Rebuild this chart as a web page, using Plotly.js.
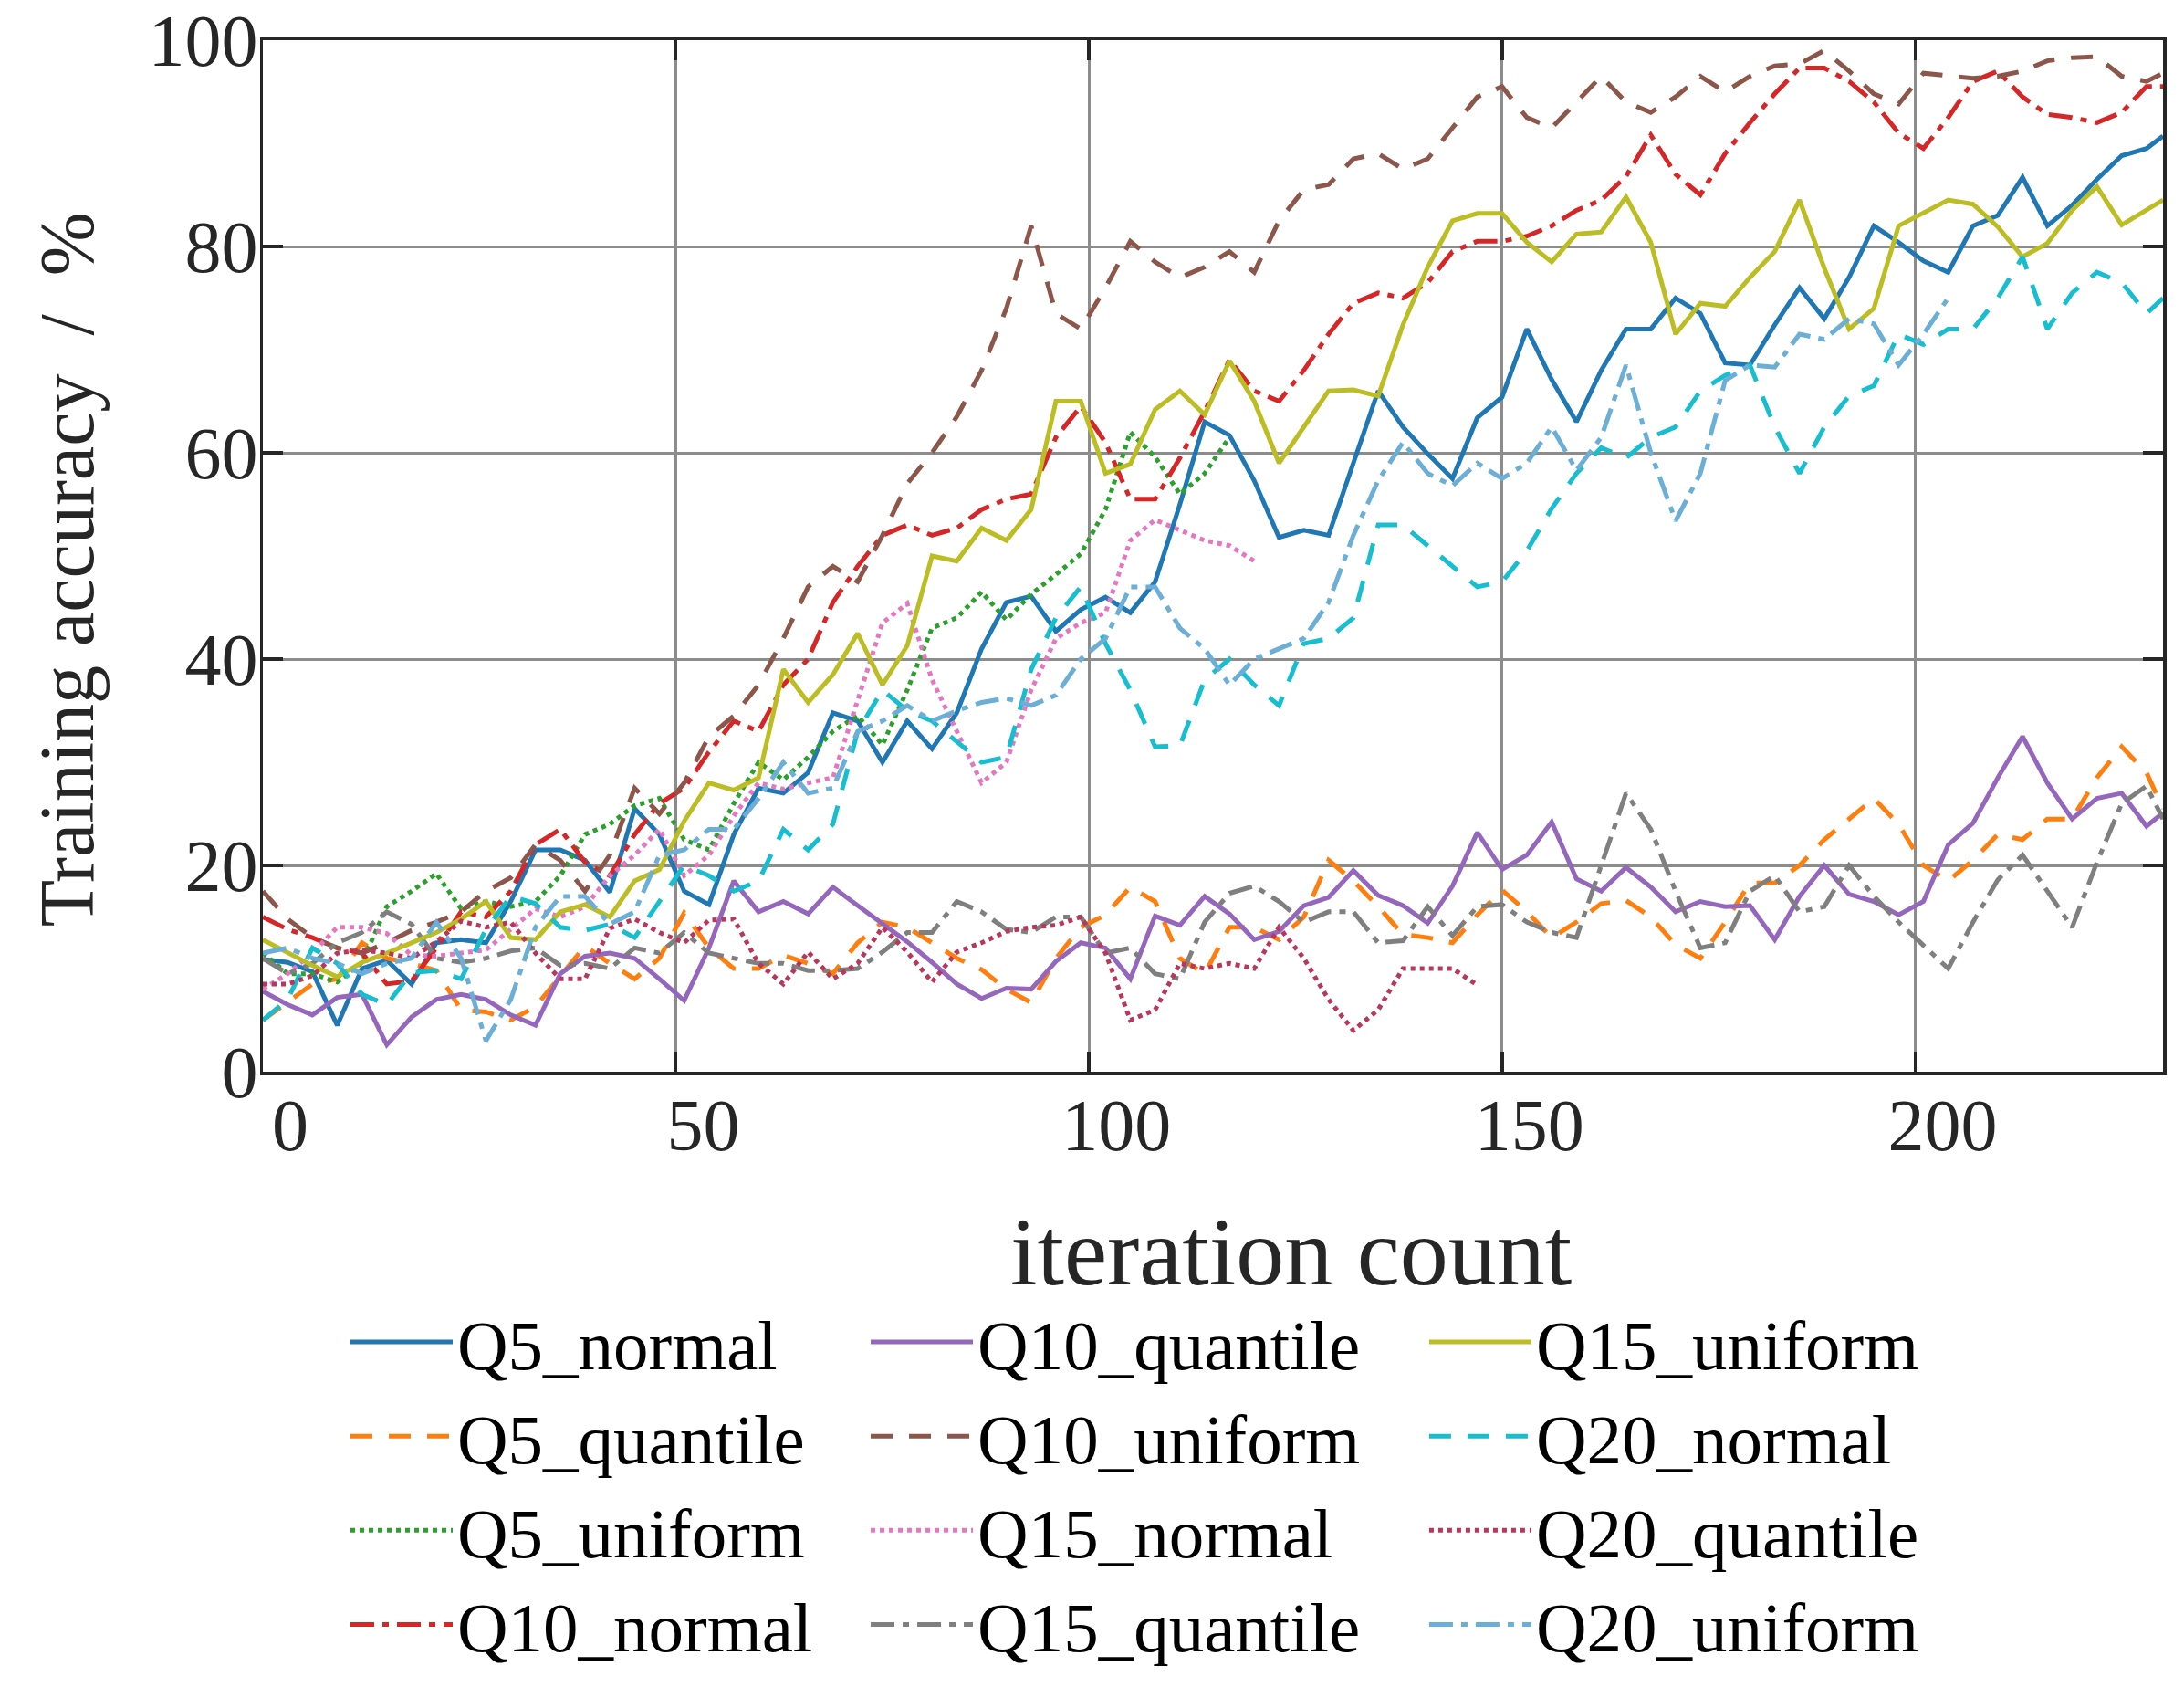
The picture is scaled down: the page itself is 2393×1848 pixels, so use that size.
<!DOCTYPE html>
<html>
<head>
<meta charset="utf-8">
<title>Training accuracy vs iteration count</title>
<script src="https://cdn.plot.ly/plotly-3.0.1.min.js"></script>
<style>
  html, body { margin: 0; padding: 0; background: #fff; }
  #chart { width: 2393px; height: 1848px; }
</style>
</head>
<body>
<div id="chart"></div>
<script>
// Training accuracy (%) per iteration, sampled every 3 iterations (last point = 230).
const ITER = [];
for (let k = 0; k <= 76; k++) ITER.push(k * 3);
ITER.push(230);

const X_TICKS = [0, 50, 100, 150, 200];
const Y_TICKS = [0, 20, 40, 60, 80, 100];

const Q5_normal = [10.9,10.6,9.7,4.5,10.0,10.8,8.5,12.5,12.8,12.5,
  16.5,21.5,21.5,20.5,17.4,25.5,23.0,17.5,16.2,23.0,
  27.5,27.0,29.0,34.8,34.0,30.0,34.0,31.3,34.8,41.0,
  45.5,46.1,42.7,44.8,46.0,44.5,47.5,55.0,63.0,61.7,
  57.3,51.8,52.5,52.0,59.0,66.0,62.5,59.9,57.5,63.4,
  65.4,72.0,67.1,63.0,68.0,72.0,72.0,75.0,73.5,68.7,
  68.5,72.4,76.0,73.0,77.0,82.0,80.4,78.6,77.5,82.0,
  83.0,86.7,82.0,84.0,86.5,88.8,89.5,90.7];

const Q5_quantile = [5.0,6.8,8.5,9.0,12.5,11.0,10.5,9.8,6.0,5.8,
  5.0,6.3,9.3,12.2,10.5,9.0,11.0,15.4,12.0,10.0,
  10.0,11.3,10.5,9.5,12.5,14.5,14.0,12.5,11.0,9.9,
  8.0,6.7,11.0,14.0,15.2,17.9,16.5,11.0,9.5,14.0,
  14.0,12.8,15.0,20.5,18.5,16.0,13.3,13.0,12.5,15.2,
  17.6,15.5,13.0,14.5,16.3,16.6,15.0,12.3,11.0,14.5,
  18.3,18.3,20.0,22.5,24.5,26.5,24.0,20.0,18.5,20.5,
  23.0,22.5,24.5,24.5,28.5,31.5,29.0,25.5];

const Q5_uniform = [11.5,9.5,9.5,8.7,10.6,16.0,17.5,19.2,15.8,16.5,
  16.0,16.5,19.0,23.0,24.0,25.8,26.5,22.5,21.5,26.0,
  30.0,28.3,30.5,33.0,34.5,31.7,37.0,43.0,44.0,46.5,
  43.8,46.3,48.2,50.2,54.5,62.0,59.6,56.0,58.0,61.5];

const Q10_normal = [15.0,13.8,13.0,12.0,11.5,8.5,8.8,12.0,15.5,15.0,
  17.5,22.0,23.5,20.3,19.0,23.0,26.0,27.5,31.0,34.0,
  33.0,37.5,40.0,45.5,49.0,52.0,53.0,52.0,52.7,54.5,
  55.5,56.0,61.5,64.5,61.0,55.5,55.5,59.5,64.0,69.0,
  66.0,65.0,68.0,71.5,74.5,75.5,75.0,76.5,79.5,80.5,
  80.5,81.0,82.0,83.5,84.5,86.8,90.8,87.0,85.0,89.0,
  92.0,94.8,97.3,97.3,96.0,94.0,91.0,89.5,92.5,96.0,
  97.0,94.5,92.8,92.5,92.0,93.0,95.5,95.5];

const Q10_quantile = [7.8,6.5,5.5,7.2,7.5,2.6,5.3,7.0,7.5,7.0,
  5.5,4.5,9.5,11.2,11.5,11.0,9.0,6.9,12.0,18.5,
  15.5,16.5,15.3,17.9,16.1,14.4,12.6,10.6,8.5,7.1,
  8.1,8.0,10.7,12.5,12.0,9.0,15.1,14.2,17.0,15.3,
  12.8,13.6,16.1,16.9,19.5,17.1,16.1,14.4,18.0,23.2,
  19.6,21.0,24.2,18.7,17.5,19.8,17.9,15.5,16.5,16.0,
  16.1,12.8,17.0,20.0,17.2,16.5,15.2,16.5,22.0,24.1,
  28.5,32.5,28.0,24.5,26.5,27.0,23.8,25.1];

const Q10_uniform = [17.5,14.8,13.0,12.0,11.5,12.5,13.7,14.5,15.5,17.5,
  18.8,22.0,20.5,17.5,21.0,27.5,25.0,28.0,32.5,34.5,
  37.5,42.0,47.0,49.0,47.5,52.0,57.0,60.0,63.5,68.0,
  74.0,82.0,73.5,72.0,76.0,80.5,78.5,77.0,78.0,79.5,
  77.5,82.5,85.5,86.0,88.5,89.0,87.5,88.5,91.5,94.5,
  95.5,92.5,91.5,94.0,96.5,94.0,93.0,94.5,96.5,95.0,
  96.5,97.5,97.7,99.0,97.0,94.8,93.8,96.8,96.5,96.3,
  96.5,97.0,98.0,98.3,98.4,96.5,96.0,96.8];

const Q15_normal = [8.0,9.5,11.5,14.0,14.0,13.4,11.3,11.2,11.5,11.8,
  13.8,15.8,15.0,16.0,19.0,21.0,23.5,19.0,21.0,24.8,
  28.0,27.4,28.0,28.5,36.0,43.5,45.4,38.0,33.0,28.0,
  30.0,37.0,42.0,43.5,44.5,51.5,53.5,52.5,51.5,51.0,
  49.5];

const Q15_quantile = [11.0,9.5,10.5,12.5,13.5,15.5,14.3,11.0,10.6,11.0,
  11.7,12.0,10.3,10.5,10.0,12.0,11.5,13.5,11.5,11.0,
  10.5,10.5,9.8,9.8,10.0,11.6,13.5,13.5,16.5,15.5,
  13.8,13.5,15.0,15.0,11.5,12.0,9.5,9.0,14.5,17.3,
  18.0,16.5,14.5,15.5,15.5,12.5,12.7,16.0,13.2,16.0,
  16.2,14.5,13.5,13.0,20.0,27.0,23.5,17.5,12.0,12.5,
  17.5,19.0,15.5,16.0,20.0,17.0,14.5,12.2,10.0,14.5,
  18.6,21.0,17.5,14.0,20.3,26.0,27.7,24.5];

const Q15_uniform = [12.8,11.5,10.3,9.2,10.6,11.5,12.5,13.5,14.8,16.5,
  13.0,12.8,15.5,16.2,15.0,18.5,19.6,24.3,28.0,27.3,
  28.5,39.0,35.8,38.5,42.5,37.5,41.3,50.0,49.5,52.7,
  51.5,54.5,65.0,65.0,58.0,58.9,64.2,66.0,63.7,68.9,
  65.0,59.0,62.5,66.0,66.1,65.5,72.4,78.0,82.5,83.2,
  83.2,80.4,78.5,81.2,81.4,84.8,80.4,71.5,74.5,74.2,
  77.0,79.5,84.5,77.9,72.0,74.0,82.0,83.2,84.5,84.1,
  81.9,79.0,80.3,83.5,85.8,82.1,83.6,84.5];

const Q20_normal = [5.0,7.0,12.0,10.5,7.5,6.5,9.6,9.8,9.0,13.8,
  17.0,16.3,14.0,13.7,14.3,13.0,16.5,20.0,19.0,17.5,
  18.5,23.5,21.5,24.0,33.0,37.0,35.0,34.0,32.0,30.0,
  30.5,39.0,44.0,47.0,41.5,37.0,31.5,31.6,38.0,40.0,
  37.5,35.5,41.5,42.0,44.0,53.0,53.0,51.0,49.0,47.0,
  47.5,50.5,54.6,58.0,60.5,59.5,61.5,62.5,66.0,67.5,
  68.5,62.5,58.0,62.5,65.5,66.5,71.5,70.5,72.0,72.0,
  75.0,79.0,72.0,75.5,77.5,76.5,73.5,75.0];

const Q20_quantile = [8.5,8.5,9.3,11.5,11.8,11.5,11.0,12.6,14.6,14.0,
  14.5,11.5,9.0,9.0,13.9,14.8,13.5,12.5,14.7,14.8,
  10.5,8.5,11.6,9.0,10.5,14.0,11.6,8.7,11.6,12.5,
  13.6,14.0,14.2,15.0,11.5,5.0,6.0,10.5,10.0,10.5,
  10.0,14.0,11.0,7.0,4.0,6.0,10.0,10.0,10.0,8.4];

const Q20_uniform = [11.5,12.0,11.0,10.5,9.5,10.5,11.0,14.5,11.0,3.0,
  7.0,14.0,17.0,17.0,14.3,15.5,21.0,21.5,23.5,23.5,
  26.5,30.0,27.0,27.5,33.0,34.0,35.5,34.0,35.0,35.8,
  36.2,35.5,36.5,40.0,42.0,47.0,47.0,43.0,41.0,37.5,
  40.0,41.0,42.0,45.5,52.0,57.3,61.0,58.0,56.8,59.0,
  57.5,59.0,62.5,58.3,61.5,68.5,60.0,53.4,58.0,67.0,
  68.5,68.3,71.5,71.0,73.0,72.5,68.5,71.5,75.0];

// MATLAB-like line styles at this line width
const DASH = {
  solid: 'solid',
  dash: '24px,18px',
  dot: '5px,5px',
  dashdot: '26px,9px,7px,9px',
};

const SERIES = [
  { name: 'Q5_normal',    y: Q5_normal,    color: '#1f77b4', dash: DASH.solid,   legend: 'legend'  },
  { name: 'Q5_quantile',  y: Q5_quantile,  color: '#ff7f0e', dash: DASH.dash,    legend: 'legend'  },
  { name: 'Q5_uniform',   y: Q5_uniform,   color: '#2ca02c', dash: DASH.dot,     legend: 'legend'  },
  { name: 'Q10_normal',   y: Q10_normal,   color: '#d62728', dash: DASH.dashdot, legend: 'legend'  },
  { name: 'Q10_quantile', y: Q10_quantile, color: '#9467bd', dash: DASH.solid,   legend: 'legend2' },
  { name: 'Q10_uniform',  y: Q10_uniform,  color: '#8c564b', dash: DASH.dash,    legend: 'legend2' },
  { name: 'Q15_normal',   y: Q15_normal,   color: '#e377c2', dash: DASH.dot,     legend: 'legend2' },
  { name: 'Q15_quantile', y: Q15_quantile, color: '#7f7f7f', dash: DASH.dashdot, legend: 'legend2' },
  { name: 'Q15_uniform',  y: Q15_uniform,  color: '#bcbd22', dash: DASH.solid,   legend: 'legend3' },
  { name: 'Q20_normal',   y: Q20_normal,   color: '#17becf', dash: DASH.dash,    legend: 'legend3' },
  { name: 'Q20_quantile', y: Q20_quantile, color: '#b8375b', dash: DASH.dot,     legend: 'legend3' },
  { name: 'Q20_uniform',  y: Q20_uniform,  color: '#6baed6', dash: DASH.dashdot, legend: 'legend3' },
];

const FONT = 'Liberation Serif, Times New Roman, serif';
const INK = '#262626';

const traces = SERIES.map((s) => ({
  type: 'scatter',
  mode: 'lines',
  name: s.name,
  x: ITER.slice(0, s.y.length),
  y: s.y,
  legend: s.legend,
  line: { color: s.color, width: 5, dash: s.dash },
  hoverinfo: 'skip',
}));

function legendBox(x) {
  return {
    x, y: -0.212, xanchor: 'left', yanchor: 'top',
    orientation: 'v', bgcolor: 'rgba(0,0,0,0)', borderwidth: 0,
    itemwidth: 112, tracegroupgap: 0,
    font: { family: FONT, size: 77, color: '#000' },
  };
}

const axisCommon = {
  showline: true, linecolor: INK, linewidth: 3.5, mirror: 'ticks',
  ticks: 'inside', ticklen: 22, tickwidth: 3.5, tickcolor: INK,
  showgrid: true, gridcolor: '#8c8c8c', gridwidth: 3,
  zeroline: false, fixedrange: true,
  tickfont: { family: FONT, size: 80, color: INK },
};

const layout = {
  width: 2393, height: 1848,
  paper_bgcolor: '#fff', plot_bgcolor: '#fff',
  font: { family: FONT, color: INK },
  margin: { l: 288, r: 23, t: 44, b: 658 },
  showlegend: true,
  legend: legendBox(0.0437),
  legend2: legendBox(0.3175),
  legend3: legendBox(0.6114),
  xaxis: {
    ...axisCommon, range: [0, 230], tickmode: 'array', tickvals: X_TICKS,
    ticklabelshift: 30, ticklabelstandoff: -14,
  },
  yaxis: {
    ...axisCommon, range: [0, 100], tickmode: 'array', tickvals: Y_TICKS,
    ticklabelstandoff: -14,
  },
  annotations: [
    {
      text: 'iteration count', xref: 'paper', yref: 'paper',
      x: 0.541, y: -0.175, xanchor: 'center', yanchor: 'middle', showarrow: false,
      font: { family: FONT, size: 106, color: INK },
    },
    {
      text: 'Training accuracy\u00a0\u00a0/\u00a0\u00a0%', xref: 'paper', yref: 'paper',
      x: -0.103, y: 0.487, xanchor: 'center', yanchor: 'middle', showarrow: false,
      textangle: -90,
      font: { family: FONT, size: 84, color: INK },
    },
  ],
};

Plotly.newPlot('chart', traces, layout, { displayModeBar: false, staticPlot: true });
</script>
</body>
</html>
